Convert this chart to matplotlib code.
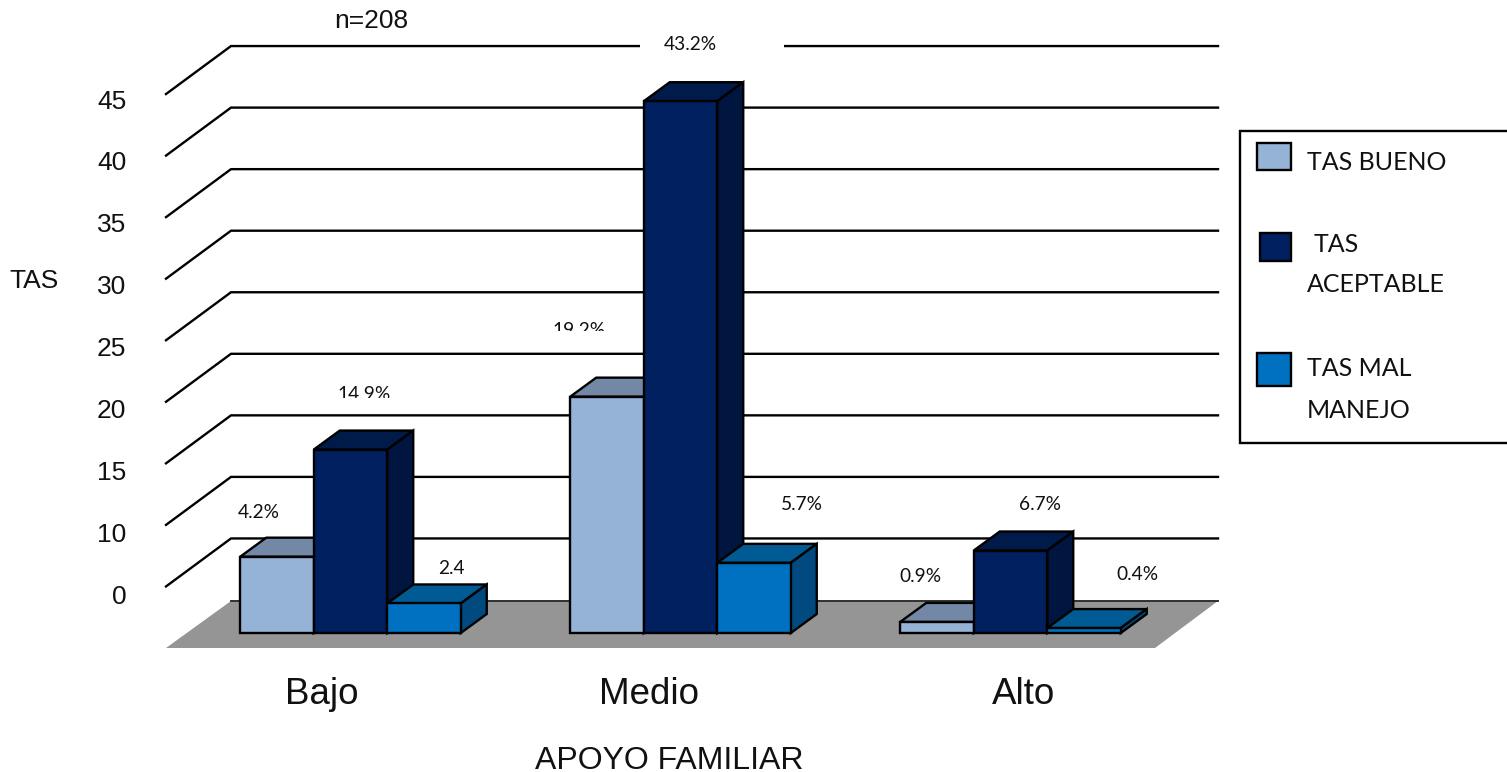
from matplotlib import pyplot as plt
from matplotlib.patches import Rectangle
from matplotlib.transforms import Affine2D

# datos
categories = ['Bajo', 'Medio', 'Alto']
tas_bueno = [6.2, 19.2, 0.9]
tas_aceptable = [14.9, 43.2, 6.7]
tas_mal = [2.4, 5.7, 0.4]
grid_levels = [45, 40, 35, 30, 25, 20, 15, 10, 5]
tick_labels = ['45', '40', '35', '30', '25', '20', '15', '10', '0']
bueno_labels = ['4.2%', '19.2%', '0.9%']
aceptable_labels = ['14.9%', '43.2%', '6.7%']
mal_labels = ['2.4', '5.7%', '0.4%']

# escala en pixeles
W, H = 1507, 772
PX_X = 330.0
PX_Y = 12.31
X0, Y0 = 350.5, 633.0
BAR_W = 73.5 / PX_X
BAR_DX = 26 / PX_X
BAR_DY = 19 / PX_Y
WALL_DX = 65 / PX_X
WALL_DY = 47 / PX_Y
FRONT_X = (166 - X0) / PX_X
BACK_RIGHT = (1218 - X0) / PX_X
FRONT_RIGHT = (1155 - X0) / PX_X
FLOOR_Y = -15 / PX_Y

fig = plt.figure(figsize=(W / 100, H / 100), dpi=100)
ax = fig.add_axes([0, 0, 1, 1])
ax.set_xlim(-X0 / PX_X, (W - X0) / PX_X)
ax.set_ylim(-(H - Y0) / PX_Y, Y0 / PX_Y)
ax.axis('off')
px = Affine2D().scale(1, -1).translate(0, H)

ARIAL = 'Liberation Sans'
LABEL = 'Lato'
INK = '#111111'
EDGE = 1.7

# suelo y rejilla
ax.fill([FRONT_X, FRONT_X + WALL_DX, BACK_RIGHT, FRONT_RIGHT],
        [FLOOR_Y, FLOOR_Y + WALL_DY, FLOOR_Y + WALL_DY, FLOOR_Y],
        color='#959595', lw=0, zorder=1)
ax.plot([FRONT_X + WALL_DX, BACK_RIGHT], [FLOOR_Y + WALL_DY] * 2,
        color='#303030', lw=1.4, zorder=1.5)
for g, lab in zip(grid_levels, tick_labels):
    ya = FLOOR_Y + g
    yb = ya + WALL_DY + 1 / PX_Y
    ax.plot([FRONT_X, FRONT_X + WALL_DX, BACK_RIGHT], [ya, yb, yb],
            color='black', lw=EDGE, solid_joinstyle='miter', zorder=2)
    shift = 10.5 - (g - 5) / 40 * 3
    ax.text(-224 / PX_X, ya - shift / PX_Y, lab, ha='right', va='center',
            family=ARIAL, fontsize=19, color=INK)


def draw_bars(values, offset, face, top, side):
    for i, v in enumerate(values):
        xc = i + offset * BAR_W
        xl, xr = xc - BAR_W / 2, xc + BAR_W / 2
        z = 3 + i + (offset + 1) * 0.1
        ax.fill([xl, xl + BAR_DX, xr + BAR_DX, xr], [v, v + BAR_DY, v + BAR_DY, v],
                facecolor=top, edgecolor='black', lw=EDGE, zorder=z)
        ax.fill([xr, xr + BAR_DX, xr + BAR_DX, xr], [0, BAR_DY, v + BAR_DY, v],
                facecolor=side, edgecolor='black', lw=EDGE, zorder=z)
        ax.bar(xc, v, BAR_W, color=face, edgecolor='black', lw=EDGE, zorder=z)


C_BUENO, C_ACEPT, C_MAL = '#95B3D7', '#002060', '#0070C0'
draw_bars(tas_bueno, -1, C_BUENO, '#7388A6', '#7388A6')
draw_bars(tas_aceptable, 0, C_ACEPT, '#001A4A', '#00153F')
draw_bars(tas_mal, 1, C_MAL, '#005A94', '#004A80')


def t(x, y, s, **kw):
    kw.setdefault('ha', 'center')
    kw.setdefault('va', 'center')
    return ax.text(x, y, s, transform=px, color=INK, **kw)


# etiquetas de datos
label_pos = {'4.2%': (259, 512), '14.9%': (364, 394), '2.4': (451, 568),
             '19.2%': (579, 330), '43.2%': (690, 44), '5.7%': (802, 505),
             '0.9%': (920, 576), '6.7%': (1040, 505), '0.4%': (1137, 575)}
for lab in bueno_labels + aceptable_labels + mal_labels:
    x, y = label_pos[lab]
    t(x, y, lab, family=LABEL, fontsize=13.8, zorder=8)

# huecos blancos que cortan textos y la linea superior
ax.add_patch(Rectangle((640, 38), 144, 16, transform=px, facecolor='white',
                       edgecolor='none', zorder=2.5))
for x, y, w, h in [(540, 331, 80, 14), (330, 398, 70, 10)]:
    ax.add_patch(Rectangle((x, y), w, h, transform=px, facecolor='white',
                           edgecolor='none', zorder=9))

# textos de ejes
cat_x = [322, 648.5, 1023.5]
for x, c in zip(cat_x, categories):
    t(x, 694, c, family=ARIAL, fontsize=26.5)
t(669.5, 761, 'APOYO FAMILIAR', family=ARIAL, fontsize=23)
t(34.5, 281, 'TAS', family=ARIAL, fontsize=19)
t(371, 21, 'n=208', family=ARIAL, fontsize=19)

# leyenda
ax.add_patch(Rectangle((1240, 131), 280, 312, transform=px, facecolor='white',
                       edgecolor='black', lw=EDGE, zorder=6))
for x, y, w, h, c in [(1257, 143, 34, 27, C_BUENO), (1260, 233, 31, 28, C_ACEPT),
                      (1257, 353, 34, 33, C_MAL)]:
    ax.add_patch(Rectangle((x, y), w, h, transform=px, facecolor=c,
                           edgecolor='black', lw=EDGE, zorder=7))
for x, y, s in [(1307, 162, 'TAS BUENO'), (1314, 245, 'TAS'), (1307, 285, 'ACEPTABLE'),
                (1307, 369, 'TAS MAL'), (1307, 411, 'MANEJO')]:
    t(x, y, s, ha='left', family=LABEL, fontsize=18, zorder=8)

fig.savefig('out.png', dpi=100)
